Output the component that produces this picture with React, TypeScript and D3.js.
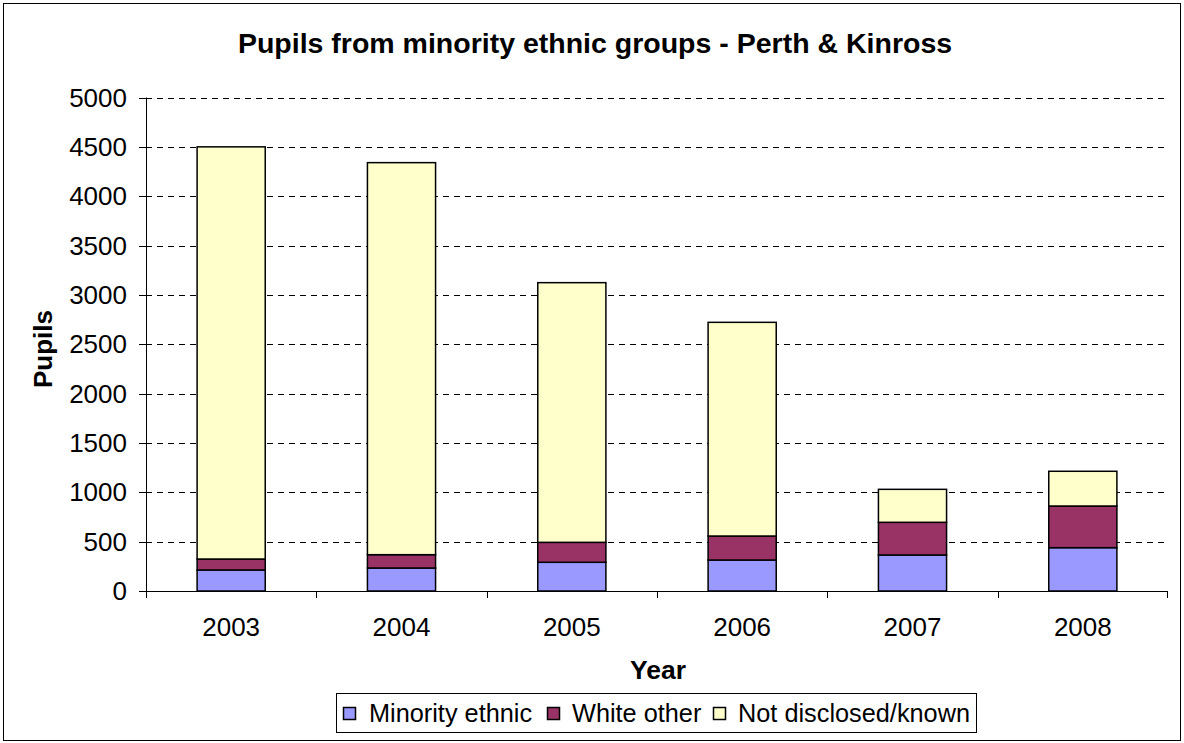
import React from "react";
import * as d3 from "d3";

const years = ["2003", "2004", "2005", "2006", "2007", "2008"];
const minorityEthnic = [213, 233, 291, 314, 365, 439];
const whiteOther = [111, 135, 202, 243, 331, 422];
const notDisclosed = [4176, 3972, 2631, 2165, 334, 352];
const seriesNames = ["Minority ethnic", "White other", "Not disclosed/known"];
const seriesColors = ["#9999FF", "#993366", "#FFFFCC"];
const yTicks = [0, 500, 1000, 1500, 2000, 2500, 3000, 3500, 4000, 4500, 5000];

const W = 1184;
const H = 743;
const left = 146;
const right = 1168;
const top = 97.5;
const bottom = 591;
const font = "'Liberation Sans', Arial, sans-serif";

export default function App() {
  const x = d3.scaleBand<string>().domain(years).range([left, right]).paddingInner(0.6).paddingOuter(0.3);
  const xb = d3.scaleBand<string>().domain(years).range([left, right]);
  const y = d3.scaleLinear().domain([0, 5000]).range([bottom, top]);

  const rows = years.map((yr, i) => ({
    year: yr,
    s0: minorityEthnic[i],
    s1: whiteOther[i],
    s2: notDisclosed[i],
  }));
  const stack = d3.stack<any>().keys(["s0", "s1", "s2"]);
  const layers = stack(rows);

  const legendItems = [
    { x: 343, tx: 369 },
    { x: 547, tx: 572 },
    { x: 713, tx: 738 },
  ];

  return (
    <svg width={W} height={H} style={{ position: "absolute", left: 0, top: 0, background: "#fff" }} fontFamily={font}>
      <rect x={3.5} y={3.5} width={W - 7} height={H - 6} fill="#fff" stroke="#000" strokeWidth={1} />
      <text x={595} y={53} textAnchor="middle" fontSize={28.5} fontWeight="bold">
        Pupils from minority ethnic groups - Perth &amp; Kinross
      </text>
      {yTicks.slice(1).map((t) => (
        <line key={"g" + t} x1={left} x2={right} y1={Math.round(y(t)) + 0.5} y2={Math.round(y(t)) + 0.5} stroke="#000" strokeDasharray="6,5" strokeWidth={1} />
      ))}
      {layers.map((layer, li) =>
        layer.map((d, i) => (
          <rect
            key={li + "-" + i}
            x={x(years[i])!}
            width={x.bandwidth()}
            y={y(d[1])}
            height={y(d[0]) - y(d[1])}
            fill={seriesColors[li]}
            stroke="#000"
            strokeWidth={1.5}
          />
        ))
      )}
      <line x1={left + 0.5} x2={left + 0.5} y1={top} y2={bottom} stroke="#000" strokeWidth={1} />
      <line x1={left} x2={right} y1={bottom + 0.5} y2={bottom + 0.5} stroke="#000" strokeWidth={1} />
      {yTicks.map((t) => (
        <g key={"t" + t}>
          <line x1={139} x2={left} y1={Math.round(y(t)) + 0.5} y2={Math.round(y(t)) + 0.5} stroke="#000" />
          <text x={127} y={y(t) + 9} textAnchor="end" fontSize={26}>
            {t}
          </text>
        </g>
      ))}
      {years.map((yr, i) => (
        <g key={"x" + yr}>
          <line x1={Math.round(xb(yr)!) + 0.5} x2={Math.round(xb(yr)!) + 0.5} y1={bottom} y2={bottom + 7} stroke="#000" />
          <text x={xb(yr)! + xb.bandwidth() / 2} y={636} textAnchor="middle" fontSize={26}>
            {yr}
          </text>
        </g>
      ))}
      <line x1={right - 0.5} x2={right - 0.5} y1={bottom} y2={bottom + 7} stroke="#000" />
      <text x={658} y={679} textAnchor="middle" fontSize={26.5} fontWeight="bold">
        Year
      </text>
      <text transform={`translate(52,349) rotate(-90)`} textAnchor="middle" fontSize={26} fontWeight="bold">
        Pupils
      </text>
      <rect x={336.5} y={693.5} width={640} height={39} fill="#fff" stroke="#000" strokeWidth={1} />
      {seriesNames.map((name, i) => (
        <g key={name}>
          <rect x={legendItems[i].x + 0.5} y={707.5} width={12} height={12} fill={seriesColors[i]} stroke="#000" strokeWidth={1.5} />
          <text x={legendItems[i].tx} y={722} fontSize={25.3}>
            {name}
          </text>
        </g>
      ))}
    </svg>
  );
}
